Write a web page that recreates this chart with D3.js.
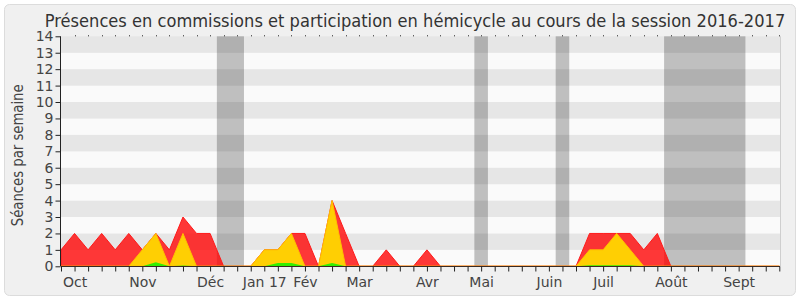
<!DOCTYPE html>
<html>
<head>
<meta charset="utf-8">
<script src="https://cdn.jsdelivr.net/npm/d3@7"></script>
<style>
  body { margin: 0; background: #fff; }
  svg { display: block; }
</style>
</head>
<body>
<svg id="chart" width="800" height="300"></svg>
<script>
// one value per week, week 0 = end of Sept 2016
const red = [1,2,1,2,1,2,1,2,1,3,2,2,0,0,0,1,1,2,2,0,4,2,0,0,1,0,0,1,
             0,0,0,0,0,0,0,0,0,0,0,2,2,2,2,1,2,0,0,0,0,0,0,0,0,0];
const yellow = [0,0,0,0,0,0,1,2,0,2,0,0,0,0,0,1,1,2,0,0,4,0,0,0,0,0,0,0,
                0,0,0,0,0,0,0,0,0,0,0,1,1,2,1,0,0,0,0,0,0,0,0,0,0,0];
const green = [0,0,0,0,0,0,0,0.25,0,0.05,0,0,0,0,0,0,0.2,0.2,0,0,0.2,0,0,0,0,0,0,0,
               0,0,0,0,0,0,0,0,0,0,0,0.06,0.06,0.06,0.06,0,0,0,0,0,0,0,0,0,0,0];

const monthWeeks = [1,6,11,15,18,22,27,31,36,40,45,50];
const monthLabels = ["Oct","Nov","Déc","Jan 17","Fév","Mar","Avr","Mai","Juin","Juil","Août","Sept"];

// holidays (week indexes, inclusive)
const vacStart = [12,31,37,45];
const vacEnd = [13,31,37,50];

const yTicks = d3.range(0, 15);

const svg = d3.select("#chart");
const font = "'DejaVu Sans', sans-serif";

const x = d3.scaleLinear().domain([0, red.length - 1]).range([61, 779.3]);
const y = d3.scaleLinear().domain([0, 14]).range([266.3, 36.3]);

// frame
svg.append("rect")
    .attr("x", 4.5).attr("y", 4.5)
    .attr("width", 791).attr("height", 291)
    .attr("rx", 5)
    .attr("fill", "#f0f0f0")
    .attr("stroke", "#dcdcdc");

// horizontal stripes
svg.append("g").selectAll("rect")
    .data(d3.range(14))
    .join("rect")
    .attr("x", x(0))
    .attr("width", 780 - x(0))
    .attr("y", d => y(d + 1))
    .attr("height", d => y(d) - y(d + 1))
    .attr("fill", d => d % 2 ? "#e6e6e6" : "#fafafa");

// right border of the plot
svg.append("line")
    .attr("x1", 780.5).attr("x2", 780.5)
    .attr("y1", y(14)).attr("y2", y(0))
    .attr("stroke", "#cfcfcf");

// holidays
svg.append("g").selectAll("rect")
    .data(vacStart)
    .join("rect")
    .attr("x", (d) => x(d - 0.5))
    .attr("width", (d, i) => x(vacEnd[i] + 0.5) - x(d - 0.5))
    .attr("y", y(14))
    .attr("height", y(0) - y(14))
    .attr("fill", "#000")
    .attr("fill-opacity", 0.235);

function area(values) {
    return d3.area()
        .x((d, i) => x(i))
        .y0(y(0))
        .y1(d => y(d))(values);
}

svg.append("path")
    .attr("d", area(red))
    .attr("fill", "#ff0000")
    .attr("fill-opacity", 0.78)
    .attr("stroke", "#ff1a1a")
    .attr("stroke-width", 1);

svg.append("path")
    .attr("d", area(yellow))
    .attr("fill", "#ffd700")
    .attr("fill-opacity", 0.95)
    .attr("stroke", "#ffc000")
    .attr("stroke-width", 1);

svg.append("path")
    .attr("d", area(green))
    .attr("fill", "#33ee00");

// x axis
let xAxis = svg.append("g")
    .attr("transform", `translate(0,${y(0) + 0.2})`)
    .call(d3.axisBottom(x)
        .tickValues(d3.range(red.length))
        .tickSize(5)
        .tickFormat(d => {
            let k = monthWeeks.indexOf(d);
            return k < 0 ? "" : monthLabels[k];
        }));
xAxis.select(".domain").attr("stroke", "#3a2a22").attr("d", `M${x(0)},0H780`);
xAxis.selectAll(".tick line").attr("stroke", "#222");
xAxis.selectAll("text")
    .attr("font-family", font)
    .attr("font-size", 14)
    .attr("fill", "#444")
    .attr("dy", "0.9em");

// y axis
let yAxis = svg.append("g")
    .attr("transform", `translate(${x(0) - 0.5},0)`)
    .call(d3.axisLeft(y).tickValues(yTicks).tickSize(5).tickPadding(2));
yAxis.select(".domain").attr("stroke", "#222").attr("d", `M0,${y(14)}V${y(0)}`);
yAxis.selectAll(".tick line").attr("stroke", "#222");
yAxis.selectAll("text")
    .attr("font-family", font)
    .attr("font-size", 14)
    .attr("fill", "#444");

// dotted top edge
svg.append("g").selectAll("rect")
    .data(d3.range(1, red.length))
    .join("rect")
    .attr("x", d => Math.round(x(d)))
    .attr("y", y(14) - 1)
    .attr("width", 1).attr("height", 1)
    .attr("fill", "#222");

// axis title, squeezed a bit like the condensed original
let yTitle = svg.append("text")
    .attr("text-anchor", "middle")
    .attr("font-family", font)
    .attr("font-size", 15)
    .attr("fill", "#444")
    .text("Séances par semaine");
let yw = yTitle.node().getComputedTextLength();
yTitle.attr("transform", `translate(23,${(y(0) + y(14)) / 2 + 4}) rotate(-90) scale(${142 / yw},1)`);

let title = svg.append("text")
    .attr("text-anchor", "middle")
    .attr("font-family", font)
    .attr("font-size", 17.5)
    .attr("fill", "#333")
    .text("Présences en commissions et participation en hémicycle au cours de la session 2016-2017");

// fit title to the width seen in the reference
let w = title.node().getComputedTextLength();
title.attr("transform", `translate(415,26.5) scale(${741 / w},1)`);
</script>
</body>
</html>
